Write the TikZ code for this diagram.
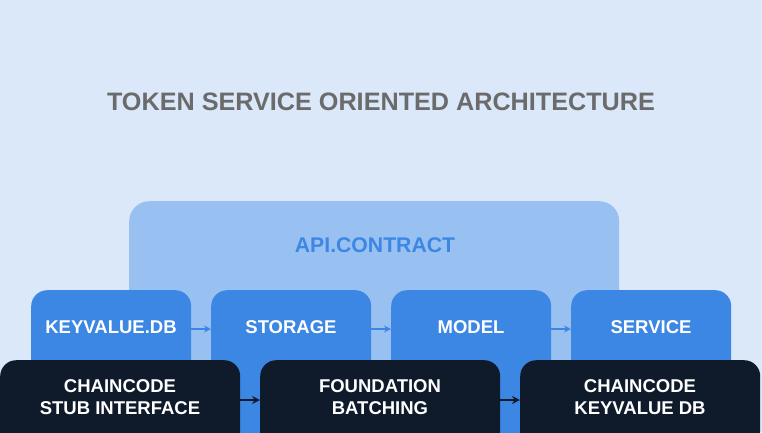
\documentclass[tikz,border=0pt]{standalone}
\usepackage{fontspec}
\setmainfont{Liberation Sans}
\usetikzlibrary{arrows.meta}
\definecolor{bgc}{HTML}{DAE8FA}
\definecolor{apic}{HTML}{98C1F2}
\definecolor{bluec}{HTML}{3C87E3}
\definecolor{darkc}{HTML}{0F1B2B}
\definecolor{titlec}{HTML}{6B6B6B}
\tikzset{
  panel/.style={anchor=north west, inner sep=0pt, rounded corners=16pt},
  apibox/.style={panel, fill=apic, rounded corners=20pt},
  bluebox/.style={panel, fill=bluec, minimum width=160pt, minimum height=160pt},
  darkbox/.style={panel, fill=darkc, minimum width=240pt, minimum height=100pt},
  bluelabel/.style={text=white, font=\bfseries\fontsize{18.5}{22}\selectfont},
  darklabel/.style={text=white, align=center, font=\bfseries\fontsize{18.5}{22}\selectfont},
  bluearrow/.style={draw=bluec, line width=1.2pt, -{Stealth[length=7pt,width=7pt]}},
  darkarrow/.style={draw=darkc, line width=1.4pt, -{Stealth[length=8pt,width=8pt]}}
}
\begin{document}
\begin{tikzpicture}[x=1pt,y=-1pt]
\useasboundingbox (0,0) rectangle (762,432);
\clip (0,0) rectangle (762,432);
\fill[bgc] (0,0) rectangle (762,432);
\node[text=titlec, font=\bfseries\fontsize{25.2}{29}\selectfont] (title) at (381,102) {TOKEN SERVICE ORIENTED ARCHITECTURE};
\node[apibox, minimum width=490pt, minimum height=260pt] (api) at (129,201) {};
\node[text=bluec, font=\bfseries\fontsize{21.2}{25}\selectfont] (apit) at (375,245) {API.CONTRACT};
\node[bluebox] (kv) at (31,290) {};
\node[bluebox] (st) at (211,290) {};
\node[bluebox] (mo) at (391,290) {};
\node[bluebox] (se) at (571,290) {};
\node[bluelabel] (kvt) at (111,327) {KEYVALUE.DB};
\node[bluelabel] (stt) at (291,327) {STORAGE};
\node[bluelabel] (mot) at (471,327) {MODEL};
\node[bluelabel] (set) at (651,327) {SERVICE};
\draw[bluearrow] (kv.east |- 0,329) -- (st.west |- 0,329);
\draw[bluearrow] (st.east |- 0,329) -- (mo.west |- 0,329);
\draw[bluearrow] (mo.east |- 0,329) -- (se.west |- 0,329);
\node[darkbox] (cs) at (0,360) {};
\node[darkbox] (fb) at (260,360) {};
\node[darkbox] (ck) at (520,360) {};
\node[darklabel] (cst) at (120,397) {CHAINCODE\\STUB INTERFACE};
\node[darklabel] (fbt) at (380,397) {FOUNDATION\\BATCHING};
\node[darklabel] (ckt) at (640,397) {CHAINCODE\\KEYVALUE DB};
\draw[darkarrow] (cs.east |- 0,400) -- (fb.west |- 0,400);
\draw[darkarrow] (fb.east |- 0,400) -- (ck.west |- 0,400);
\end{tikzpicture}
\end{document}
